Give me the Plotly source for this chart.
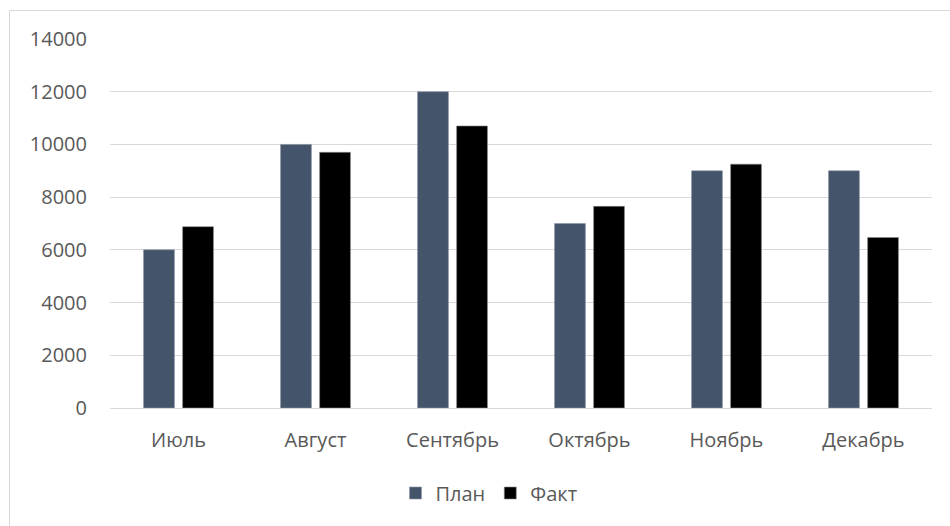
import plotly.graph_objects as go

# Monthly plan vs actual
months = ["Июль", "Август", "Сентябрь", "Октябрь", "Ноябрь", "Декабрь"]
plan = [6000, 10000, 12000, 7000, 9000, 9000]
fact = [6880, 9700, 10700, 7650, 9250, 6470]
y_ticks = [0, 2000, 4000, 6000, 8000, 10000, 12000, 14000]
y_tick_text = [str(v) for v in y_ticks]

FONT = "Open Sans"
SIZE = 20
TEXT = "#595959"
GRID = "#D9D9D9"

fig = go.Figure()
fig.add_trace(go.Bar(name="План", x=months, y=plan,
                     marker=dict(color="#44546A", line=dict(color="#8a94a3", width=0.6))))
fig.add_trace(go.Bar(name="Факт", x=months, y=fact,
                     marker=dict(color="#000000", line=dict(color="#8a8a8a", width=0.6))))

W, H = 950, 526
L, R, T, B = 110, 18, 39, 118
pw, ph = W - L - R, H - T - B

def px_to_paper_x(px):
    return (px - L) / pw

def px_to_paper_y(py):
    return (H - B - py) / ph

fig.update_layout(
    width=W, height=H,
    margin=dict(l=L, r=R, t=T, b=B),
    paper_bgcolor="white", plot_bgcolor="white",
    barmode="group", bargap=0.43, bargroupgap=0.21,
    font=dict(family=FONT, size=SIZE, color=TEXT),
    xaxis=dict(showgrid=False, showline=True, linecolor=GRID, linewidth=1.3,
               ticks="", ticklabelstandoff=14,
               tickfont=dict(family=FONT, size=SIZE, color=TEXT)),
    yaxis=dict(range=[0, 14000], tickvals=y_ticks, ticktext=y_tick_text,
               showgrid=True, gridcolor=GRID, gridwidth=1.3, zeroline=False,
               showline=False, ticks="", ticklabelstandoff=22,
               tickfont=dict(family=FONT, size=SIZE, color=TEXT)),
    legend=dict(orientation="h", x=px_to_paper_x(489), y=px_to_paper_y(493),
                xanchor="center", yanchor="middle",
                font=dict(family=FONT, size=SIZE, color=TEXT),
                itemwidth=30, tracegroupgap=0),
    shapes=[dict(type="rect", xref="paper", yref="paper",
                 x0=px_to_paper_x(9.5), x1=px_to_paper_x(960),
                 y0=px_to_paper_y(540), y1=px_to_paper_y(10.5),
                 line=dict(color=GRID, width=1), fillcolor="rgba(0,0,0,0)",
                 layer="below")],
)

fig.write_html("out.html")
